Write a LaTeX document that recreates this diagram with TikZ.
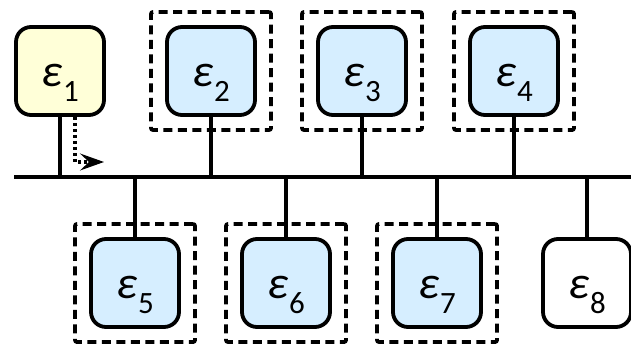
\documentclass[tikz,border=0pt]{standalone}
\usepackage{fontspec}
\setmainfont{Carlito}
\usetikzlibrary{arrows.meta}
\definecolor{agentyellow}{HTML}{FFFFD8}
\definecolor{agentblue}{HTML}{D6EEFF}
% epsilon with its index; the baseline sits 15pt below the node centre
\newcommand{\agentlabel}[1]{\raisebox{-15pt}[0pt][0pt]{{\fontsize{46}{46}\selectfont\itshape ε}\kern1pt\raisebox{-15pt}{\fontsize{31}{31}\selectfont #1}}}
\tikzset{
  agent/.style={draw=black, line width=3.8pt, rounded corners=15pt,
    minimum width=88pt, minimum height=88pt, inner sep=0pt, align=center},
  group/.style={draw=black, line width=3.8pt, dash pattern=on 9pt off 5.5pt,
    rounded corners=2pt, minimum width=120pt, minimum height=118pt, inner sep=0pt},
  wire/.style={line width=3.8pt},
  hint/.style={line width=3.8pt, dash pattern=on 3pt off 3pt,
    -{Stealth[length=24pt,width=17pt,inset=9pt,line width=2pt,sep=0pt]}},
}
\begin{document}
\begin{tikzpicture}[x=1pt,y=-1pt]
  \useasboundingbox (0,0) rectangle (631,345);

  % shared bus
  \coordinate (busL) at (14,177);
  \coordinate (busR) at (631,177);
  \draw[wire] (busL) -- (busR);

  % upper row
  \node[group] (g2) at (211,71) {};
  \node[group] (g3) at (362,71) {};
  \node[group] (g4) at (514,71) {};
  \node[agent, fill=agentyellow] (e1) at (60,71) {\agentlabel{1}};
  \node[agent, fill=agentblue] (e2) at (211,71) {\agentlabel{2}};
  \node[agent, fill=agentblue] (e3) at (362,71) {\agentlabel{3}};
  \node[agent, fill=agentblue] (e4) at (514,71) {\agentlabel{4}};

  % lower row
  \node[group] (g5) at (135,283) {};
  \node[group] (g6) at (286,283) {};
  \node[group] (g7) at (437,283) {};
  \node[agent, fill=agentblue] (e5) at (135,283) {\agentlabel{5}};
  \node[agent, fill=agentblue] (e6) at (286,283) {\agentlabel{6}};
  \node[agent, fill=agentblue] (e7) at (437,283) {\agentlabel{7}};
  \node[agent, fill=white] (e8) at (587,283) {\agentlabel{8}};

  % drops onto the bus
  \foreach \n in {1,2,3,4}{
    \draw[wire] (e\n.south) -- (e\n.south |- busL);
  }
  \foreach \n in {5,6,7,8}{
    \draw[wire] (e\n.north) -- (e\n.north |- busL);
  }

  % message leaving agent 1
  \coordinate (msgEnd) at (104,162);
  \draw[hint] ([xshift=15pt]e1.south) |- (msgEnd);
\end{tikzpicture}
\end{document}
